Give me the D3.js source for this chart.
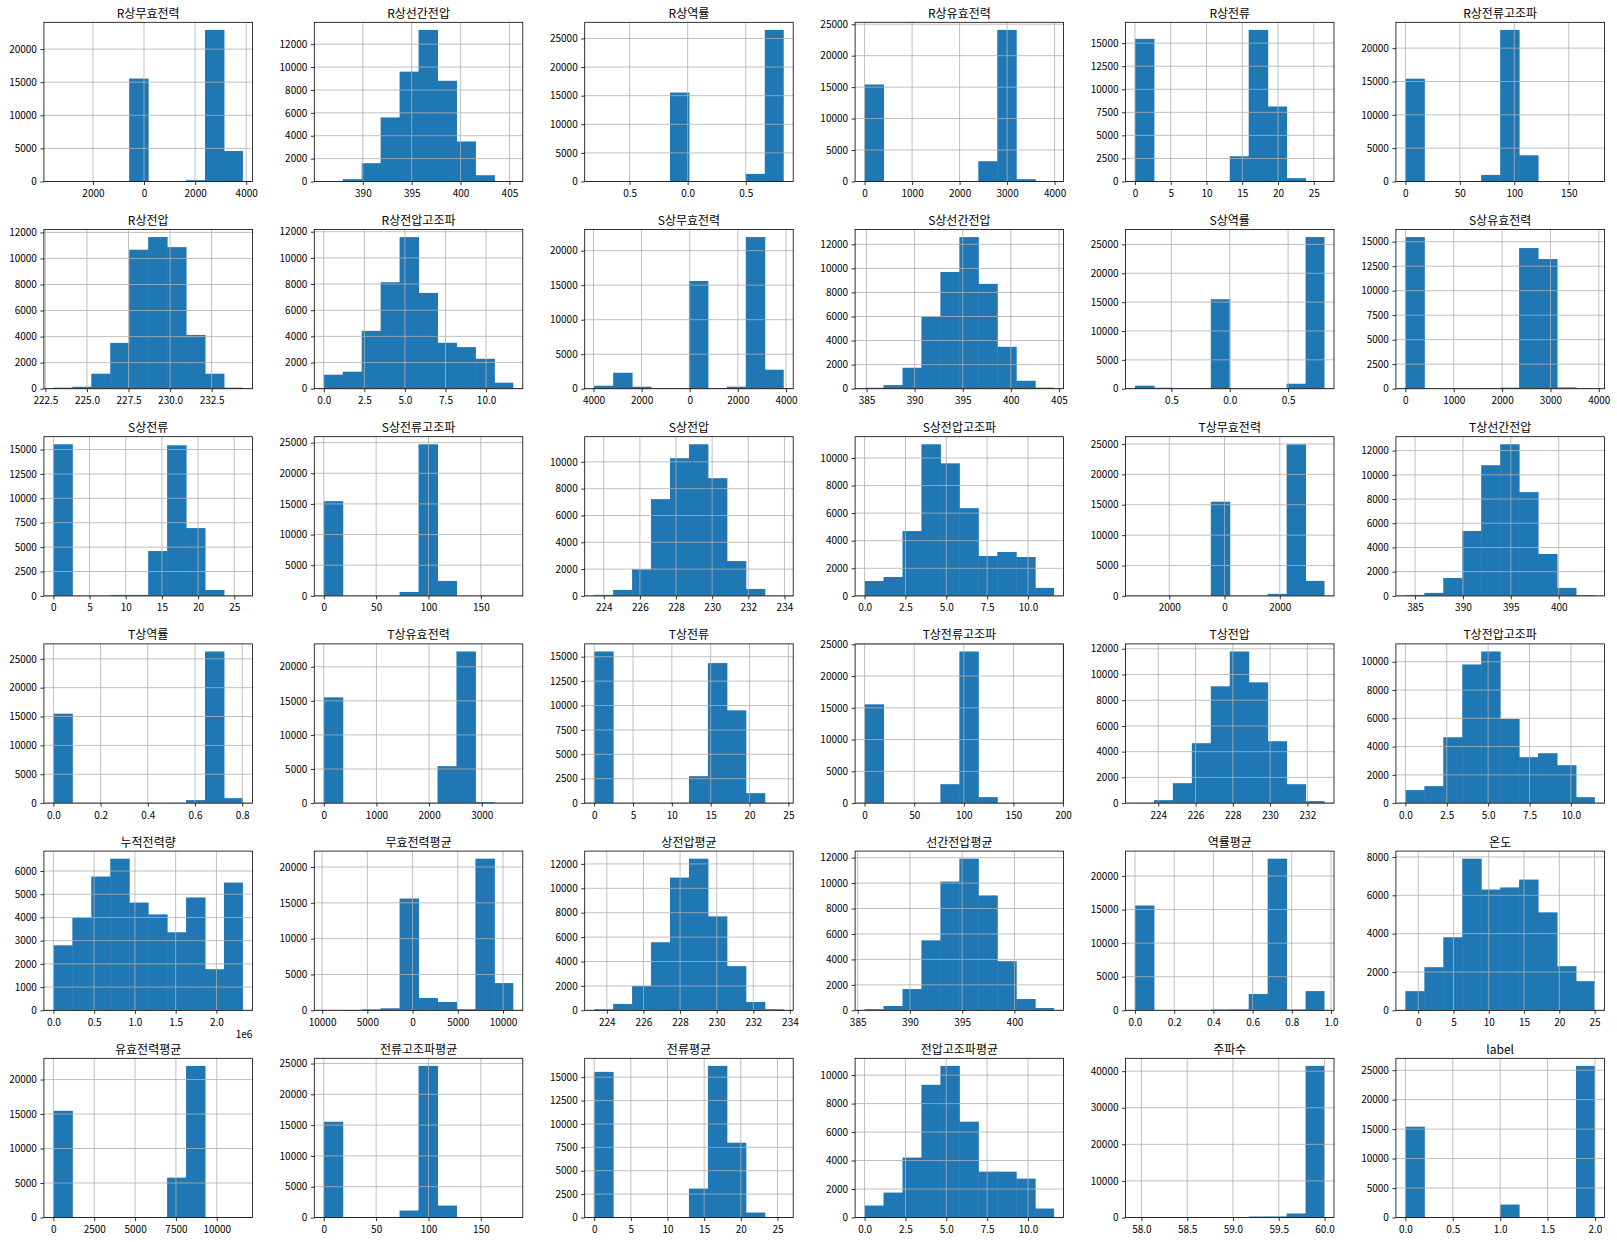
<!DOCTYPE html>
<html>
<head>
<meta charset="utf-8">
<script src="https://cdn.jsdelivr.net/npm/d3@7"></script>
<style>
body { margin: 0; background: #fff; }
text { font-family: "Noto Sans CJK KR", "Noto Sans", sans-serif; }
</style>
</head>
<body>
<div id="chart"></div>
<script>
// column names, in the order df.hist() laid them out
const titles = [
  "R상무효전력", "R상선간전압", "R상역률", "R상유효전력", "R상전류", "R상전류고조파",
  "R상전압", "R상전압고조파", "S상무효전력", "S상선간전압", "S상역률", "S상유효전력",
  "S상전류", "S상전류고조파", "S상전압", "S상전압고조파", "T상무효전력", "T상선간전압",
  "T상역률", "T상유효전력", "T상전류", "T상전류고조파", "T상전압", "T상전압고조파",
  "누적전력량", "무효전력평균", "상전압평균", "선간전압평균", "역률평균", "온도",
  "유효전력평균", "전류고조파평균", "전류평균", "전압고조파평균", "주파수", "label"
];

// data range of each column (first and last bin edge)
const binMin = [
  -3548, 386.0, -0.805, 0, 0, 0,
  222.98, 0, -3971, 384.8, -0.812, 0,
  0, 0, 223.47, 0, -3242, 383.99,
  0, 0, 0, 0, 222.75, 0,
  0, -9814, 223.31, 385.66, 0, -1.82,
  0, 0, 0, 0, 57.93, 0
];
const binMax = [
  3871, 405.4, 0.827, 3990, 26.5, 174,
  234.38, 11.68, 3906, 404.5, 0.812, 3920,
  26.2, 181, 233.96, 11.6, 3619, 403.78,
  0.803, 3600, 24.4, 191, 232.92, 11.45,
  2.325, 11137, 233.66, 403.8, 0.967, 25.05,
  11600, 181, 25.85, 11.6, 60.0, 2
];

// counts of the 10 bins
const counts = [
  [5, 3, 2, 10, 15550, 0, 0, 200, 22900, 4600],
  [20, 200, 1600, 5600, 9600, 13250, 8800, 3500, 550, 20],
  [5, 2, 1, 3, 15550, 0, 0, 0, 1330, 26500],
  [15420, 0, 0, 0, 0, 20, 3220, 24100, 370, 10],
  [15470, 0, 5, 10, 20, 2740, 16440, 8130, 360, 10],
  [15420, 0, 0, 5, 990, 22740, 3930, 30, 5, 2],
  [80, 150, 1150, 3520, 10670, 11640, 10870, 4130, 1150, 80],
  [1070, 1300, 4420, 8140, 11590, 7320, 3510, 3180, 2290, 460],
  [430, 2310, 290, 10, 20, 15610, 20, 290, 21970, 2750],
  [80, 300, 1740, 6000, 9700, 12600, 8710, 3480, 660, 90],
  [520, 170, 10, 10, 15500, 0, 0, 0, 860, 26270],
  [15470, 0, 0, 0, 10, 100, 14350, 13230, 130, 10],
  [15540, 0, 10, 100, 100, 4600, 15440, 6950, 610, 10],
  [15450, 0, 0, 5, 650, 24730, 2440, 10, 2, 1],
  [75, 450, 1990, 7220, 10270, 11310, 8780, 2600, 520, 10],
  [1080, 1370, 4700, 10990, 9610, 6360, 2890, 3180, 2820, 580],
  [5, 2, 3, 10, 15500, 20, 10, 330, 24950, 2470],
  [80, 250, 1480, 5360, 10790, 12520, 8570, 3460, 660, 70],
  [15500, 0, 0, 0, 5, 10, 20, 520, 26270, 860],
  [15510, 0, 0, 0, 0, 20, 5420, 22240, 150, 5],
  [15540, 0, 0, 5, 20, 2760, 14350, 9510, 1020, 10],
  [15550, 0, 0, 5, 2980, 23870, 940, 10, 3, 1],
  [15, 230, 1550, 4660, 9080, 11790, 9390, 4810, 1470, 155],
  [920, 1200, 4660, 9810, 10730, 5950, 3250, 3530, 2680, 420],
  [2800, 3990, 5760, 6530, 4640, 4130, 3360, 4860, 1770, 5500],
  [10, 40, 130, 280, 15600, 1710, 1160, 150, 21160, 3800],
  [90, 520, 1990, 5580, 10880, 12430, 7700, 3620, 680, 90],
  [90, 340, 1670, 5500, 10120, 11920, 9030, 3860, 890, 180],
  [15600, 0, 0, 20, 130, 150, 2420, 22570, 120, 2860],
  [1000, 2250, 3810, 7910, 6300, 6410, 6820, 5110, 2300, 1520],
  [15470, 0, 0, 0, 0, 10, 5780, 21980, 10, 1],
  [15550, 0, 0, 10, 1130, 24620, 1940, 10, 3, 1],
  [15570, 0, 0, 5, 20, 3090, 16210, 8000, 530, 10],
  [840, 1750, 4210, 9320, 10650, 6730, 3220, 3220, 2730, 630],
  [5, 2, 2, 5, 20, 30, 270, 280, 1090, 41450],
  [15410, 0, 0, 0, 0, 2200, 0, 0, 0, 25730]
];

// x tick values per panel
const xTicks = [
  [-2000, 0, 2000, 4000], [390, 395, 400, 405], [-0.5, 0, 0.5],
  [0, 1000, 2000, 3000, 4000], [0, 5, 10, 15, 20, 25], [0, 50, 100, 150],
  [222.5, 225, 227.5, 230, 232.5], [0, 2.5, 5, 7.5, 10], [-4000, -2000, 0, 2000, 4000],
  [385, 390, 395, 400, 405], [-0.5, 0, 0.5], [0, 1000, 2000, 3000, 4000],
  [0, 5, 10, 15, 20, 25], [0, 50, 100, 150], [224, 226, 228, 230, 232, 234],
  [0, 2.5, 5, 7.5, 10], [-2000, 0, 2000], [385, 390, 395, 400],
  [0, 0.2, 0.4, 0.6, 0.8], [0, 1000, 2000, 3000], [0, 5, 10, 15, 20, 25],
  [0, 50, 100, 150, 200], [224, 226, 228, 230, 232], [0, 2.5, 5, 7.5, 10],
  [0, 0.5, 1, 1.5, 2], [-10000, -5000, 0, 5000, 10000], [224, 226, 228, 230, 232, 234],
  [385, 390, 395, 400], [0, 0.2, 0.4, 0.6, 0.8, 1], [0, 5, 10, 15, 20, 25],
  [0, 2500, 5000, 7500, 10000], [0, 50, 100, 150], [0, 5, 10, 15, 20, 25],
  [0, 2.5, 5, 7.5, 10], [58, 58.5, 59, 59.5, 60], [0, 0.5, 1, 1.5, 2]
];

// y tick step per panel
const yStep = [
  5000, 2000, 5000, 5000, 2500, 5000,
  2000, 2000, 5000, 2000, 5000, 2500,
  2500, 5000, 2000, 2000, 5000, 2000,
  5000, 5000, 2500, 5000, 2000, 2000,
  1000, 5000, 2000, 2000, 5000, 2000,
  5000, 5000, 2500, 2000, 10000, 5000
];

// axis offset text (누적전력량 is in units of 1e6)
const offsetText = { 24: "1e6" };

const W = 1617, H = 1242;
const left0 = 43.9, pitchX = 270.4, pw = 208.5;
const top0 = 22.3, pitchY = 207.2, ph = 159.2;

const svg = d3.select("#chart").append("svg")
  .attr("width", W)
  .attr("height", H);

// matplotlib's font has no minus glyph, so negatives print without it
function decimals(v) {
  let s = String(v);
  return s.indexOf(".") < 0 ? 0 : s.split(".")[1].length;
}

titles.forEach(function(t, i) {
  let col = i % 6, row = Math.floor(i / 6);
  let g = svg.append("g")
    .attr("transform", "translate(" + (left0 + col * pitchX) + "," + (top0 + row * pitchY) + ")");

  let lo = binMin[i], hi = binMax[i];
  let span = hi - lo, bw = span / 10;
  let x = d3.scaleLinear()
    .domain([lo - 0.05 * span, hi + 0.05 * span])
    .range([0, pw]);
  let ymax = d3.max(counts[i]) * 1.05;
  let y = d3.scaleLinear()
    .domain([0, ymax])
    .range([ph, 0]);

  let yt = d3.range(0, ymax, yStep[i]);
  let xt = xTicks[i];
  let dec = d3.max(xt, decimals);
  let fmt = function(v) { return Math.abs(v).toFixed(dec); };

  // bars, widened a hair so neighbours join without a seam
  g.selectAll("rect.bar")
    .data(counts[i])
    .enter()
    .append("rect")
    .attr("class", "bar")
    .attr("x", function(d, j) { return x(lo + j * bw); })
    .attr("width", function(d, j) { return x(lo + (j + 1) * bw) - x(lo + j * bw) + (j < 9 ? 0.5 : 0); })
    .attr("y", function(d) { return y(d); })
    .attr("height", function(d) { return ph - y(d); })
    .attr("fill", "#1f77b4");

  // grid over the bars, as matplotlib draws it
  g.selectAll("line.gx")
    .data(xt)
    .enter()
    .append("line")
    .attr("x1", function(d) { return x(d); })
    .attr("x2", function(d) { return x(d); })
    .attr("y1", 0)
    .attr("y2", ph)
    .attr("stroke", "#b0b0b0")
    .attr("stroke-width", 0.8);
  g.selectAll("line.gy")
    .data(yt)
    .enter()
    .append("line")
    .attr("x1", 0)
    .attr("x2", pw)
    .attr("y1", function(d) { return y(d); })
    .attr("y2", function(d) { return y(d); })
    .attr("stroke", "#b0b0b0")
    .attr("stroke-width", 0.8);

  let xAxis = g.append("g")
    .attr("transform", "translate(0," + ph + ")")
    .call(d3.axisBottom(x).tickValues(xt).tickSize(3.5).tickPadding(5).tickFormat(fmt));
  let yAxis = g.append("g")
    .call(d3.axisLeft(y).tickValues(yt).tickSize(3.5).tickPadding(3.5).tickFormat(d3.format("d")));
  [xAxis, yAxis].forEach(function(a) {
    a.select(".domain").remove();
    a.selectAll("line").attr("stroke", "#000").attr("stroke-width", 0.8);
    a.selectAll("text").attr("fill", "#000").style("font-size", "10px");
  });

  g.append("rect")
    .attr("width", pw)
    .attr("height", ph)
    .attr("fill", "none")
    .attr("stroke", "#000")
    .attr("stroke-width", 0.8);

  g.append("text")
    .attr("x", pw / 2)
    .attr("y", -4.5)
    .attr("text-anchor", "middle")
    .style("font-size", "12px")
    .text(t);

  if (offsetText[i]) {
    g.append("text")
      .attr("x", pw)
      .attr("y", ph + 28)
      .attr("text-anchor", "end")
      .style("font-size", "10px")
      .text(offsetText[i]);
  }
});
</script>
</body>
</html>
